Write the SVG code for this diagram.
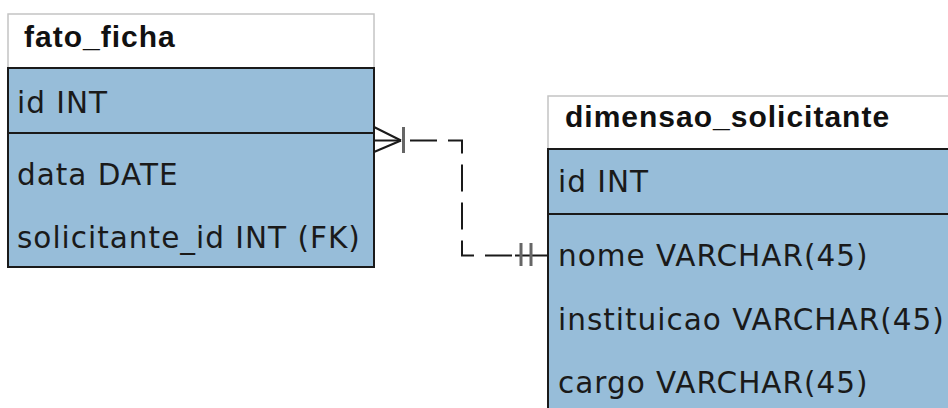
<svg xmlns="http://www.w3.org/2000/svg" width="948" height="408" viewBox="0 0 948 408">
<style>
.hdr{fill:#ffffff;stroke:#c4c4c4;stroke-width:1.5}
.body{fill:#97bdd9;stroke:#1a1a1a;stroke-width:2}
.sep{stroke:#1a1a1a;stroke-width:2}
.title{font-family:"Liberation Sans",Arial,sans-serif;font-weight:bold;font-size:30px;letter-spacing:1px;fill:#111}
.attr{font-family:"DejaVu Sans",Verdana,sans-serif;font-size:29.5px;letter-spacing:1px;fill:#1a1a1a}
.ln{fill:none;stroke:#1a1a1a;stroke-width:2}
.dash{fill:none;stroke:#1a1a1a;stroke-width:2;stroke-dasharray:27 11}
.bar{stroke:#666;stroke-width:3}
</style>
<rect width="948" height="408" fill="#ffffff"/>
<g id="fato_ficha">
<rect class="hdr" x="8" y="14" width="366" height="54"/>
<rect class="body" x="8" y="68" width="366" height="199"/>
<line class="sep" x1="8" y1="133" x2="374" y2="133"/>
<text class="title" x="24" y="47">fato_ficha</text>
<text class="attr" x="17" y="113">id INT</text>
<text class="attr" x="17" y="185">data DATE</text>
<text class="attr" x="17" y="248">solicitante_id INT (FK)</text>
</g>
<g id="dimensao_solicitante">
<rect class="hdr" x="548" y="96" width="420" height="53"/>
<rect class="body" x="548" y="149" width="420" height="280"/>
<line class="sep" x1="548" y1="214" x2="968" y2="214"/>
<text class="title" x="565" y="127">dimensao_solicitante</text>
<text class="attr" x="558" y="192">id INT</text>
<text class="attr" x="558" y="266">nome VARCHAR(45)</text>
<text class="attr" x="558" y="330">instituicao VARCHAR(45)</text>
<text class="attr" x="558" y="393">cargo VARCHAR(45)</text>
</g>
<g id="connectors">
<line class="ln" x1="374" y1="127" x2="401" y2="140.5"/>
<line class="ln" x1="374" y1="140.5" x2="401" y2="140.5"/>
<line class="ln" x1="374" y1="152" x2="401" y2="140.5"/>
<line class="bar" x1="403.5" y1="127" x2="403.5" y2="153"/>
<path class="dash" d="M410 140.5 H462 V255.5 H517"/>
<line class="ln" x1="515" y1="255.5" x2="548" y2="255.5"/>
<line class="bar" x1="521" y1="243" x2="521" y2="266"/>
<line class="bar" x1="531" y1="243" x2="531" y2="266"/>
</g>
</svg>
